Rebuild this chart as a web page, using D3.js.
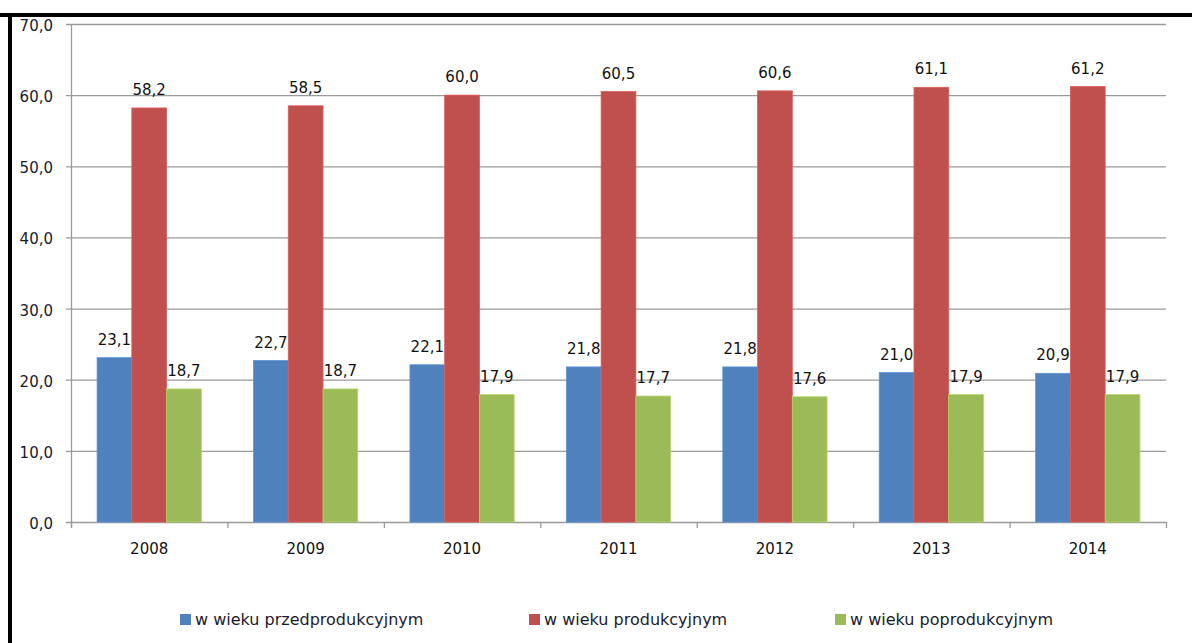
<!DOCTYPE html>
<html>
<head>
<meta charset="utf-8">
<script src="https://cdn.jsdelivr.net/npm/d3@7"></script>
<style>
  body { margin: 0; background: #fff; }
  svg { display: block; font-family: "DejaVu Sans", sans-serif; }
</style>
</head>
<body>
<svg id="chart" width="1192" height="643"></svg>
<script>
var years = ["2008", "2009", "2010", "2011", "2012", "2013", "2014"]
var seriesNames = ["w wieku przedprodukcyjnym", "w wieku produkcyjnym", "w wieku poprodukcyjnym"]
var przed = [23.1, 22.7, 22.1, 21.8, 21.8, 21.0, 20.9]
var prod = [58.2, 58.5, 60.0, 60.5, 60.6, 61.1, 61.2]
var popr = [18.7, 18.7, 17.9, 17.7, 17.6, 17.9, 17.9]
var yTicks = [0, 10, 20, 30, 40, 50, 60, 70]
var colors = ["#4F81BD", "#C0504D", "#9BBB59"]

var series = [przed, prod, popr]
var fmt = function(v) { return v.toFixed(1).replace(".", ",") }

var svg = d3.select("#chart")

// frame (top and left only)
svg.append("rect").attr("x", 0).attr("y", 13).attr("width", 1192).attr("height", 4).attr("fill", "#000")
svg.append("rect").attr("x", 8).attr("y", 13).attr("width", 4).attr("height", 630).attr("fill", "#000")

var plotLeft = 71, plotRight = 1166, plotTop = 24, plotBottom = 522

var y = d3.scaleLinear().domain([0, 70]).range([plotBottom, plotTop])
var x0 = d3.scaleBand().domain(years).range([plotLeft, plotRight]).paddingInner(0).paddingOuter(0)
var x1 = d3.scaleBand().domain([0, 1, 2]).range([0, x0.bandwidth()]).paddingOuter(0.75).paddingInner(0)

// gridlines
svg.append("g").selectAll("line")
  .data(yTicks)
  .enter().append("line")
    .attr("x1", plotLeft - 5).attr("x2", plotRight)
    .attr("y1", function(d) { return y(d) + 0.5 }).attr("y2", function(d) { return y(d) + 0.5 })
    .attr("stroke", "#9a9a9a").attr("stroke-width", 1.3)

// y labels
svg.append("g").selectAll("text")
  .data(yTicks)
  .enter().append("text")
    .attr("x", 53).attr("y", function(d) { return y(d) + 7 })
    .attr("text-anchor", "end")
    .attr("font-size", "15px").attr("fill", "#1a1a2e")
    .text(fmt)

// y axis line
svg.append("line").attr("x1", plotLeft + 0.5).attr("x2", plotLeft + 0.5).attr("y1", plotTop).attr("y2", plotBottom + 5)
  .attr("stroke", "#9a9a9a").attr("stroke-width", 1.3)

// x axis ticks
var xTickPos = years.map(function(d) { return x0(d) }).concat([plotRight])
svg.append("g").selectAll("line")
  .data(xTickPos)
  .enter().append("line")
    .attr("x1", function(d) { return d + 0.5 }).attr("x2", function(d) { return d + 0.5 })
    .attr("y1", plotBottom).attr("y2", plotBottom + 6)
    .attr("stroke", "#9a9a9a").attr("stroke-width", 1.3)

// bars
var groups = svg.append("g").selectAll("g")
  .data(years)
  .enter().append("g")
    .attr("transform", function(d) { return "translate(" + x0(d) + ",0)" })

groups.each(function(yr, i) {
  var g = d3.select(this)
  series.forEach(function(s, k) {
    g.append("rect")
      .attr("x", x1(k)).attr("width", x1.bandwidth())
      .attr("y", y(s[i])).attr("height", plotBottom - y(s[i]))
      .attr("fill", colors[k])
      .attr("stroke", d3.color(colors[k]).brighter(0.4)).attr("stroke-width", 0.8)
  })
  series.forEach(function(s, k) {
    g.append("text")
      .attr("x", x1(k) + x1.bandwidth() / 2)
      .attr("y", y(s[i]) - 13)
      .attr("text-anchor", "middle")
      .attr("font-size", "15px").attr("fill", "#111")
      .text(fmt(s[i]))
  })
})

// x labels
svg.append("g").selectAll("text")
  .data(years)
  .enter().append("text")
    .attr("x", function(d) { return x0(d) + x0.bandwidth() / 2 })
    .attr("y", 554)
    .attr("text-anchor", "middle")
    .attr("font-size", "15px").attr("fill", "#111")
    .text(function(d) { return d })

// legend
var legendX = [180, 529, 835]
var legend = svg.append("g").selectAll("g")
  .data(seriesNames)
  .enter().append("g")
    .attr("transform", function(d, i) { return "translate(" + legendX[i] + ",614)" })
legend.append("rect").attr("width", 11).attr("height", 11)
  .attr("fill", function(d, i) { return colors[i] })
legend.append("text").attr("x", 15).attr("y", 11)
  .attr("font-size", "16px").attr("fill", "#1a1a2e")
  .text(function(d) { return d })
</script>
</body>
</html>
